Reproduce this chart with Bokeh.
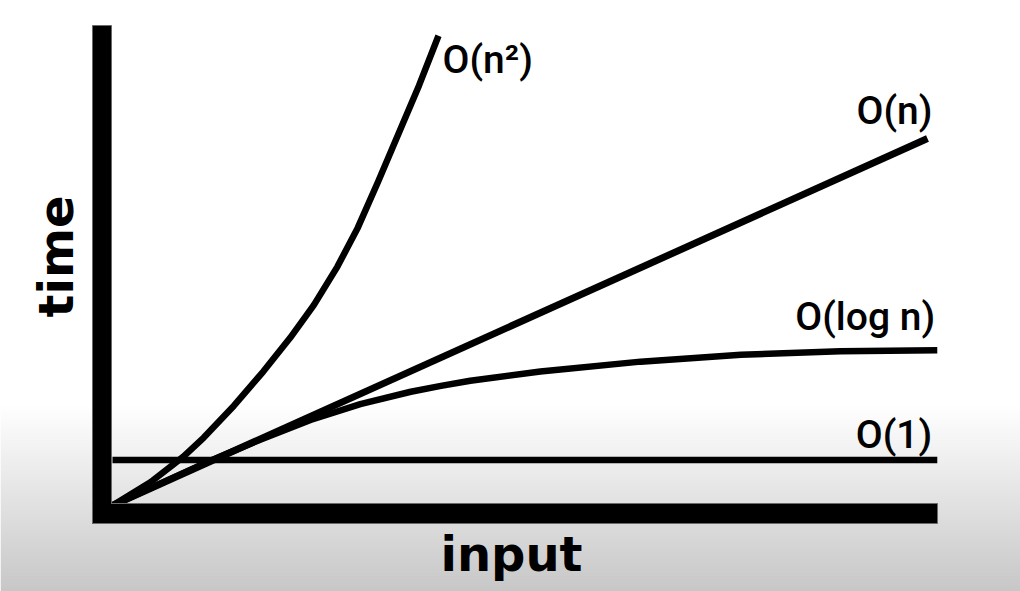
import numpy as np
from bokeh.plotting import figure
from bokeh.models import Range1d, Label
from bokeh.core.properties import value
from bokeh.embed import file_html
from bokeh.resources import INLINE

# ---------------- data ----------------
series_names = ["O(1)", "O(log n)", "O(n)", "O(n²)"]
x_title = "input"
y_title = "time"

const_input = [0, 101.2]
const_time = [12.4, 12.4]

log_input = [0, 5.9, 12.0, 18.2, 24.3, 30.4, 36.6, 40.3, 43.9, 52.5, 64.8, 77.1, 89.3, 101.2]
log_time = [0, 6.0, 12.2, 18.0, 23.3, 27.6, 31.0, 32.6, 34.0, 36.5, 39.2, 41.1, 42.0, 42.3]

lin_input = [0, 100]
lin_time = [0, 100]

quad_input = [0, 4.7, 8.7, 11.2, 14.9, 18.5, 21.8, 24.7, 27.6, 30.1, 32.6, 35.3, 37.6, 40.0]
quad_time = [0, 6.4, 13.3, 18.5, 27.2, 36.5, 45.7, 54.6, 65.1, 75.7, 88.3, 102.4, 114.4, 128.0]

# ---------------- layout helpers ----------------
W, H = 1020, 591
OX, OY = 112, 505          # canvas pixel of data origin
XS, YS = 8.15, 3.67        # pixels per data unit


def dx(px):
    return (px - OX) / XS


def dy(py):
    return (OY - py) / YS


x0, x1 = dx(0), dx(W)
y0, y1 = dy(H), dy(0)

p = figure(width=W, height=H, output_backend="svg", toolbar_location=None,
           x_range=Range1d(x0, x1), y_range=Range1d(y0, y1),
           x_axis_location=None, y_axis_location=None, min_border=0,
           outline_line_color=None, background_fill_color="white",
           border_fill_color="white")
p.grid.visible = False

# ---------------- background gradient ----------------
img = np.empty((H, 2), dtype=np.uint32)
view = img.view(dtype=np.uint8).reshape((H, 2, 4))
for i in range(H):
    py = (H - 1 - i) + 0.5        # canvas y (from top)
    g = 255 if py < 405 else 255 - (py - 405) / 186 * 56
    g = int(round(max(0, min(255, g))))
    view[i, :, 0] = g
    view[i, :, 1] = g
    view[i, :, 2] = g
    view[i, :, 3] = 255
p.image_rgba(image=[img], x=x0, y=y0, dw=x1 - x0, dh=y1 - y0)

# ---------------- curves ----------------
lw = 6.5
p.line(const_input, const_time, line_color="black", line_width=lw)
p.line(log_input, log_time, line_color="black", line_width=lw, line_join="round")
p.line(lin_input, lin_time, line_color="black", line_width=7)
p.line(quad_input, quad_time, line_color="black", line_width=lw, line_join="round")

# ---------------- thick axis bars ----------------
p.quad(left=[dx(92)], right=[dx(111)], bottom=[dy(523)], top=[dy(25)],
       fill_color="black", line_color="#6a6a6a", line_width=1)
p.quad(left=[dx(92)], right=[dx(937)], bottom=[dy(523)], top=[dy(503)],
       fill_color="black", line_color="#6a6a6a", line_width=1)
p.quad(left=[dx(92.5)], right=[dx(110.5)], bottom=[dy(522.5)], top=[dy(502)],
       fill_color="black", line_color=None)

# ---------------- curve labels ----------------
lab_font = value("'Roboto Medium', Roboto")
common = dict(text_font=lab_font, text_font_style="normal", text_font_size="39px",
              text_color="black", text_baseline="alphabetic")
p.text(x=[const_input[-1]], y=[const_time[-1]], text=[series_names[0]],
       text_align="right", x_offset=-5, y_offset=-25, **common)
p.text(x=[log_input[-1]], y=[log_time[-1]], text=[series_names[1]],
       text_align="right", x_offset=-2, y_offset=-33, **common)
p.text(x=[lin_input[-1]], y=[lin_time[-1]], text=[series_names[2]],
       text_align="right", x_offset=5, y_offset=-28, **common)
p.text(x=[quad_input[-1]], y=[quad_time[-1]], text=[series_names[3]],
       text_align="left", x_offset=4, y_offset=24, **common)

# ---------------- axis titles ----------------
p.add_layout(Label(x=dx(55), y=dy(256), text=y_title, angle=np.pi / 2,
                   text_align="center", text_baseline="alphabetic",
                   text_font="DejaVu Sans", text_font_style="bold",
                   text_font_size="48px", text_color="black"))
p.add_layout(Label(x=dx(511), y=dy(553), text=x_title,
                   text_align="center", text_baseline="alphabetic",
                   text_font="DejaVu Sans", text_font_style="bold",
                   text_font_size="48px", text_color="black"))

open("out.html", "w").write(file_html(p, INLINE))
